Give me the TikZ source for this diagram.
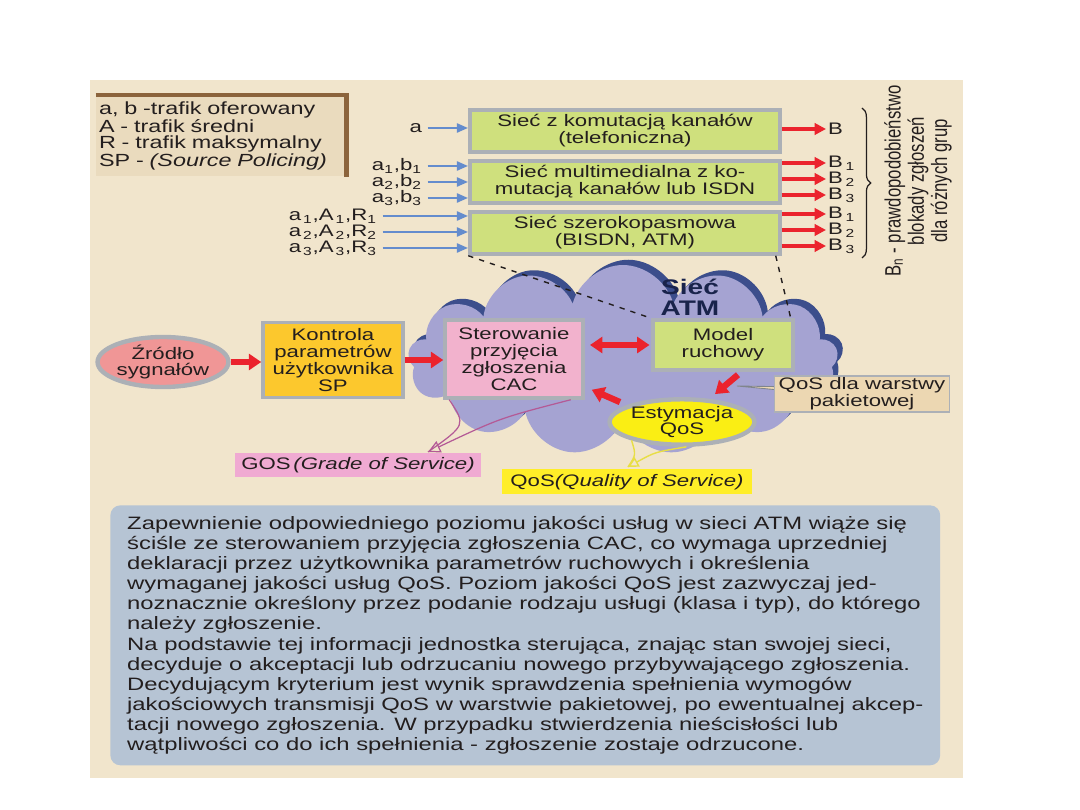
\documentclass[tikz,border=0pt]{standalone}
\usepackage{fontspec}
\setmainfont[FakeStretch=1.33]{Liberation Sans}
\newfontfamily\plainsf{Liberation Sans}
\usetikzlibrary{arrows.meta,positioning,calc,shapes.geometric,shapes.symbols,decorations.pathreplacing,shadows}
\definecolor{AtmPaper}{RGB}{241,229,204}
\definecolor{AtmLegend}{RGB}{234,219,190}
\definecolor{AtmBrown}{RGB}{140,100,60}
\definecolor{AtmGreen}{RGB}{207,224,125}
\definecolor{AtmFrame}{RGB}{172,176,182}
\definecolor{AtmFrameDark}{RGB}{128,133,140}
\definecolor{AtmInk}{RGB}{35,30,30}
\definecolor{AtmBlue}{RGB}{100,140,205}
\definecolor{AtmRed}{RGB}{235,35,45}
\definecolor{AtmCloud}{RGB}{165,163,210}
\definecolor{AtmCloudEdge}{RGB}{60,78,140}
\definecolor{AtmSalmon}{RGB}{240,150,150}
\definecolor{AtmOrange}{RGB}{252,200,45}
\definecolor{AtmPink}{RGB}{242,178,205}
\definecolor{AtmYellow}{RGB}{250,238,20}
\definecolor{AtmTag}{RGB}{236,215,178}
\definecolor{AtmGos}{RGB}{240,170,210}
\definecolor{AtmQos}{RGB}{255,238,40}
\definecolor{AtmNote}{RGB}{182,196,212}
\definecolor{AtmNavy}{RGB}{25,35,75}
\definecolor{AtmMauve}{RGB}{180,90,150}
\definecolor{AtmLime}{RGB}{232,222,70}
\newcommand{\atmsize}{\fontsize{9.5}{9.6}\selectfont}
\tikzset{
  atm/net/.style={
    draw=AtmFrame,
    line width=2pt,
    fill=AtmGreen,
    align=center,
    text=AtmInk,
    inner sep=1pt,
    minimum width=62mm,
    minimum height=8.4mm,
    font=\atmsize,
    drop shadow={shadow xshift=1.4pt, shadow yshift=0.6pt, fill=AtmFrameDark, opacity=1}
  },
  atm/box/.style={
    draw=AtmFrame,
    line width=2pt,
    align=center,
    text=AtmInk,
    inner sep=1pt,
    font=\atmsize,
    drop shadow={shadow xshift=1.4pt, shadow yshift=0.6pt, fill=AtmFrameDark, opacity=1}
  },
  atm/oval/.style={
    ellipse,
    draw=AtmFrame,
    line width=2.5pt,
    align=center,
    text=AtmInk,
    inner sep=0pt,
    font=\atmsize
  },
  atm/tag/.style={draw=AtmFrame, line width=0.8pt, fill=AtmTag, align=center, text=AtmInk, inner sep=1pt, font=\atmsize},
  atm/flat/.style={align=center, text=AtmInk, inner sep=1pt, font=\atmsize},
  atm/label/.style={text=AtmInk, inner sep=1pt, font=\atmsize},
  atm/blue/.style={-{Triangle[length=6.5pt,width=5pt]}, line width=1.7pt, draw=AtmBlue, shorten <=2pt},
  atm/red/.style={-{Triangle[length=7pt,width=9pt]}, line width=3.6pt, draw=AtmRed},
  atm/redboth/.style={{Triangle[length=7pt,width=9pt]}-{Triangle[length=7pt,width=9pt]}, line width=3.6pt, draw=AtmRed, shorten <=3pt, shorten >=1pt},
  atm/redthin/.style={-{Triangle[length=6.5pt,width=6.5pt]}, line width=2.2pt, draw=AtmRed},
  atm/pinkline/.style={draw=AtmMauve, line width=0.7pt},
  atm/yline/.style={draw=AtmLime, line width=0.8pt},
  atm/dash/.style={draw=AtmInk, line width=0.8pt, dash pattern=on 3pt off 3.5pt},
  atm/brace/.style={draw=AtmInk, line width=0.7pt, decorate, decoration={brace, amplitude=5pt}}
}
\begin{document}
\begin{tikzpicture}[x=0.02cm,y=0.02cm]
  \useasboundingbox (0,0) rectangle (1080,-810);
  \fill[AtmPaper] (90,-80) rectangle (963,-778);

  % legend
  \node[fill=AtmLegend, minimum width=50mm, minimum height=15.2mm, text width=48.8mm, inner xsep=0.6mm,
        align=left, text=AtmInk, font=\fontsize{10}{9.3}\selectfont] (legend) at (221,-136)
    {a, b -trafik oferowany\\A - trafik średni\\R - trafik maksymalny\\SP - \textit{(Source Policing)}};
  \draw[AtmBrown, line width=2.6pt] (legend.north west) -- (legend.north east) -- (legend.south east);

  % networks
  \node[atm/net] (net1) at (625,-131) {Sieć z komutacją kanałów\\(telefoniczna)};
  \node[atm/net] (net2) at (625,-182) {Sieć multimedialna z ko-\\mutacją kanałów lub ISDN};
  \node[atm/net] (net3) at (625,-233) {Sieć szerokopasmowa\\(BISDN, ATM)};

  % offered traffic
  \node[atm/label, anchor=east] (inA) at (424,-128) {a};
  \node[atm/label, anchor=east] (inB1) at (424,-166) {a\textsubscript{1},b\textsubscript{1}};
  \node[atm/label, anchor=east] (inB2) at (424,-182) {a\textsubscript{2},b\textsubscript{2}};
  \node[atm/label, anchor=east] (inB3) at (424,-198) {a\textsubscript{3},b\textsubscript{3}};
  \node[atm/label, anchor=east] (inR1) at (379,-216) {a\textsubscript{\,1},A\textsubscript{\,1},R\textsubscript{1}};
  \node[atm/label, anchor=east] (inR2) at (379,-232) {a\textsubscript{\,2},A\textsubscript{\,2},R\textsubscript{2}};
  \node[atm/label, anchor=east] (inR3) at (379,-248) {a\textsubscript{\,3},A\textsubscript{\,3},R\textsubscript{3}};
  \draw[atm/blue] (inA.east) -- (inA.east -| net1.west);
  \foreach \src in {inB1,inB2,inB3} {
    \draw[atm/blue] (\src.east) -- (\src.east -| net2.west);
  }
  \foreach \src in {inR1,inR2,inR3} {
    \draw[atm/blue] (\src.east) -- (\src.east -| net3.west);
  }

  % blocking
  \node[atm/label, anchor=west] (outB) at (826,-129) {B};
  \draw[atm/redthin] (outB.west -| net1.east) -- (outB.west);
  \foreach \nm/\yy/\sub in {outB21/163/1, outB22/179/2, outB23/195/3, outB31/214/1, outB32/230/2, outB33/246/3} {
    \node[atm/label, anchor=west] (\nm) at (826,-\yy) {B\,\textsubscript{\sub}};
    \draw[atm/redthin] (\nm.west -| net1.east) -- (\nm.west);
  }
  \coordinate (braceTop) at (862,-108);
  \coordinate (braceBot) at (862,-258);
  \draw[atm/brace] (braceTop) -- (braceBot);
  \node[rotate=90, yscale=1.33, align=center, text=AtmInk, inner sep=1pt,
        font=\plainsf\fontsize{9.5}{10}\selectfont] (bnote) at (918,-181)
    {B\textsubscript{n} - prawdopodobieństwo\\blokady zgłoszeń\\dla różnych grup};

  % ATM network
  \node[cloud, cloud puffs=13, aspect=2.3, fill=AtmCloud, minimum width=86mm, minimum height=38mm,
        drop shadow={shadow xshift=3pt, shadow yshift=3pt, fill=AtmCloudEdge, opacity=1}] (cloud) at (623,-360) {};
  \node[text=AtmNavy, align=center, font=\bfseries\fontsize{12}{12}\selectfont] (atmname) at (690,-297) {Sieć\\ATM};

  \node[atm/oval, fill=AtmSalmon, minimum width=24.8mm, minimum height=10mm] (zrodlo) at (163,-362) {Źródło\\sygnałów};
  \node[atm/box, fill=AtmOrange, minimum width=28mm, minimum height=15mm] (kontrola) at (333,-360) {Kontrola\\parametrów\\użytkownika\\SP};
  \node[atm/box, fill=AtmPink, minimum width=27.6mm, minimum height=15.6mm] (sterowanie) at (514,-359) {Sterowanie\\przyjęcia\\zgłoszenia\\CAC};
  \node[atm/box, fill=AtmGreen, minimum width=28mm, minimum height=10mm] (model) at (723,-345) {Model\\ruchowy};
  \node[atm/oval, fill=AtmYellow, minimum width=25.6mm, minimum height=8.4mm] (estymacja) at (682,-422) {Estymacja\\QoS};

  \coordinate (callPt) at (737,-386);
  \draw[AtmFrameDark, line width=0.5pt, fill=AtmTag] (863,-388) -- (callPt) -- (863,-398);
  \node[atm/tag, minimum width=35mm, minimum height=6.6mm] (warstwa) at (862,-394) {QoS dla warstwy\\pakietowej};
  \node[atm/flat, fill=AtmGos, minimum width=49.4mm, minimum height=4.8mm] (gos) at (358,-465) {GOS\,\textit{(Grade of Service)}};
  \node[atm/flat, fill=AtmQos, minimum width=50mm, minimum height=5mm] (qos) at (627,-482) {QoS\textit{(Quality of Service)}};

  \draw[atm/dash] (net3.south west) -- (model.north west);
  \draw[atm/dash] ($(net3.south east)+(-6,0)$) -- ($(model.north east)+(-4,0)$);

  \draw[atm/red] (zrodlo.east) -- (zrodlo.east -| kontrola.west);
  \draw[atm/red] (kontrola.east) -- (kontrola.east -| sterowanie.west);
  \draw[atm/redboth] (sterowanie.east |- model.west) -- (model.west);
  \draw[atm/red] ($(model.south)+(15,-3)$) -- ($(estymacja.north)+(33,3)$);
  \draw[atm/red] ($(estymacja.north)+(-62,-5)$) -- ($(sterowanie.south east)+(7,10)$);

  \coordinate (gosTip) at (428,-452);
  \draw[atm/pinkline] ($(sterowanie.south west)+(6,0)$) .. controls (466,-425) .. (gosTip);
  \draw[atm/pinkline, -{Triangle[open, length=7pt, width=7pt]}] ($(sterowanie.south east)+(-14,0)$) .. controls (500,-418) .. (gosTip);
  \coordinate (qosTip) at (628,-467);
  \draw[atm/yline] (estymacja.200) .. controls (636,-455) .. (qosTip);
  \draw[atm/yline, -{Triangle[open, length=6pt, width=6pt]}] (estymacja.280) .. controls (655,-452) .. (qosTip);

  % description
  \node[fill=AtmNote, rounded corners=2mm, anchor=north west, minimum width=166mm, minimum height=52mm,
        inner xsep=1mm, align=left, text=AtmInk,
        font=\fontsize{10.2}{11.45}\selectfont] (opis) at (110,-505)
    {Zapewnienie odpowiedniego poziomu jakości usług w sieci ATM wiąże się\\
     ściśle ze sterowaniem przyjęcia zgłoszenia CAC, co wymaga uprzedniej\\
     deklaracji przez użytkownika parametrów ruchowych i określenia\\
     wymaganej jakości usług QoS. Poziom jakości QoS jest zazwyczaj jed-\\
     noznacznie określony przez podanie rodzaju usługi (klasa i typ), do którego\\
     należy zgłoszenie.\\
     Na podstawie tej informacji jednostka sterująca, znając stan swojej sieci,\\
     decyduje o akceptacji lub odrzucaniu nowego przybywającego zgłoszenia.\\
     Decydującym kryterium jest wynik sprawdzenia spełnienia wymogów\\
     jakościowych transmisji QoS w warstwie pakietowej, po ewentualnej akcep-\\
     tacji nowego zgłoszenia. W przypadku stwierdzenia nieścisłości lub\\
     wątpliwości co do ich spełnienia - zgłoszenie zostaje odrzucone.};
\end{tikzpicture}
\end{document}
